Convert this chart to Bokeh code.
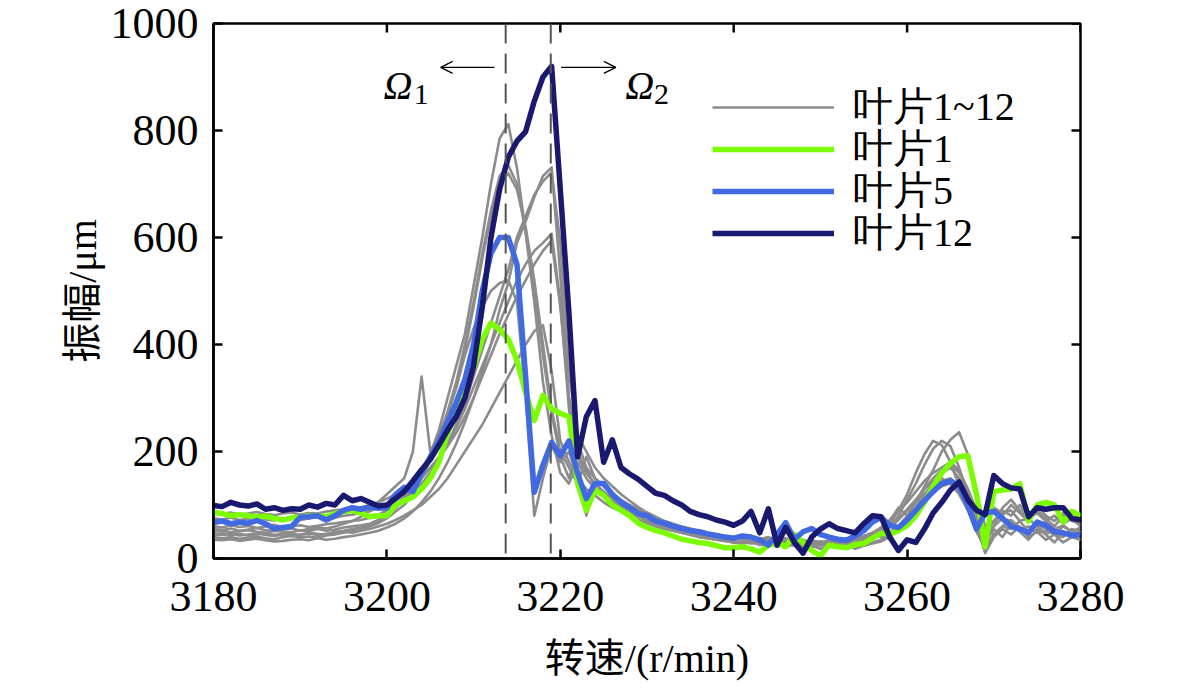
import math
from bokeh.plotting import figure
from bokeh.models import (Range1d, FixedTicker, Span, Arrow, OpenHead,
                          Label, Legend, LegendItem)
from bokeh.embed import file_html
from bokeh.resources import INLINE

# ---------------- data ----------------
speed = list(range(3180, 3281))  # r/min, 1 r/min step

x_ticks = [3180, 3200, 3220, 3240, 3260, 3280]
y_ticks = [0, 200, 400, 600, 800, 1000]
omega1 = 3213.7
omega2 = 3218.9

blade1 = [86, 84, 80, 82, 80, 78, 79, 75, 72, 76,
          77, 79, 80, 78, 84, 88, 90, 85, 78, 80,
          80, 100, 108, 115, 130, 150, 180, 234, 275, 320,
          357, 410, 440, 428, 410, 370, 310, 258, 305, 280,
          271, 265, 140, 90, 128, 118, 100, 90, 80, 66,
          58, 52, 48, 42, 36, 33, 30, 28, 24, 20,
          20, 22, 18, 12, 25, 30, 22, 45, 30, 15,
          5, 25, 22, 20, 26, 28, 38, 47, 46, 52,
          62, 80, 105, 135, 160, 178, 190, 192, 120, 22,
          125, 128, 130, 140, 70, 100, 105, 100, 68, 88,
          80]

blade5 = [67, 70, 65, 68, 66, 71, 65, 56, 58, 60,
          77, 78, 80, 72, 80, 90, 95, 92, 96, 94,
          95, 120, 133, 125, 160, 190, 218, 255, 292, 335,
          400, 500, 570, 600, 600, 550, 340, 124, 175, 217,
          192, 220, 159, 112, 140, 140, 120, 105, 95, 84,
          80, 70, 66, 60, 56, 52, 50, 46, 43, 40,
          38, 42, 40, 35, 25, 45, 67, 36, 50, 56,
          45, 40, 36, 34, 42, 52, 68, 77, 62, 58,
          72, 90, 108, 125, 140, 145, 135, 100, 55, 85,
          88, 75, 60, 55, 48, 68, 62, 50, 48, 43,
          45]

blade12 = [99, 97, 105, 100, 98, 102, 92, 95, 90, 93,
           92, 100, 96, 103, 100, 118, 108, 112, 105, 98,
           100, 112, 125, 145, 166, 185, 212, 240, 265, 300,
           360, 470, 600, 690, 750, 780, 798, 855, 900, 920,
           690, 458, 190, 265, 295, 180, 222, 170, 158, 148,
           135, 122, 118, 108, 100, 88, 82, 78, 72, 68,
           62, 70, 88, 48, 93, 25, 58, 30, 10, 40,
           55, 65, 56, 52, 48, 65, 80, 78, 40, 15,
           35, 30, 55, 85, 105, 128, 143, 110, 90, 82,
           155, 140, 132, 130, 78, 95, 92, 95, 95, 75,
           72]

gray_a = [45, 44, 46, 43, 45, 47, 44, 42, 45, 46,
          44, 48, 46, 45, 50, 52, 55, 58, 62, 70,
          80, 95, 110, 130, 160, 195, 240, 300, 360, 420,
          510, 600, 700, 785, 812, 730, 610, 480, 330, 230,
          160, 140, 180, 150, 130, 120, 105, 95, 85, 78,
          70, 62, 58, 52, 48, 45, 40, 38, 35, 33,
          30, 32, 28, 30, 26, 34, 28, 25, 30, 22,
          26, 24, 30, 28, 35, 30, 38, 45, 60, 80,
          110, 140, 175, 205, 220, 210, 170, 120, 70, 40,
          60, 75, 70, 55, 60, 48, 52, 45, 40, 55,
          50]

gray_b = [40, 38, 40, 37, 39, 41, 38, 36, 40, 42,
          40, 41, 39, 43, 45, 48, 52, 55, 60, 66,
          75, 88, 100, 120, 150, 185, 225, 275, 330, 400,
          480, 570, 650, 715, 735, 700, 610, 500, 380, 270,
          190, 150, 200, 160, 140, 125, 112, 100, 90, 80,
          72, 66, 60, 55, 50, 46, 42, 40, 38, 35,
          33, 30, 34, 28, 32, 26, 30, 35, 28, 30,
          24, 28, 32, 26, 30, 35, 40, 50, 65, 90,
          120, 160, 195, 220, 212, 180, 135, 90, 50, 20,
          45, 60, 72, 58, 50, 62, 45, 55, 48, 40,
          52]

gray_c = [50, 52, 49, 51, 53, 50, 48, 52, 50, 49,
          53, 51, 55, 52, 54, 58, 60, 62, 65, 72,
          85, 100, 115, 135, 160, 190, 230, 270, 320, 390,
          470, 560, 640, 700, 720, 690, 620, 520, 400, 280,
          200, 170, 140, 190, 150, 135, 120, 105, 95, 85,
          78, 70, 64, 58, 52, 50, 46, 42, 40, 38,
          36, 40, 35, 38, 30, 42, 36, 30, 25, 32,
          28, 32, 28, 35, 38, 42, 46, 40, 50, 60,
          75, 95, 120, 140, 160, 170, 150, 110, 60, 80,
          95, 85, 90, 70, 75, 60, 68, 55, 62, 50,
          58]

gray_d = [35, 34, 36, 33, 35, 37, 34, 32, 33, 35,
          36, 34, 38, 35, 37, 40, 42, 45, 48, 52,
          58, 65, 75, 88, 105, 125, 150, 180, 215, 255,
          300, 350, 400, 465, 515, 590, 630, 675, 715, 731,
          530, 300, 190, 160, 140, 125, 110, 98, 88, 80,
          72, 65, 60, 55, 50, 46, 42, 38, 35, 33,
          30, 28, 32, 25, 30, 22, 28, 24, 20, 26,
          18, 22, 25, 20, 28, 24, 30, 35, 45, 60,
          80, 105, 130, 150, 165, 175, 160, 130, 85, 30,
          55, 40, 65, 50, 35, 55, 45, 30, 50, 40,
          35]

gray_e = [60, 58, 62, 59, 61, 57, 60, 63, 58, 60,
          62, 59, 61, 64, 66, 68, 70, 72, 76, 82,
          90, 100, 112, 125, 140, 160, 185, 215, 250, 290,
          340, 390, 440, 490, 540, 600, 640, 680, 705, 722,
          590, 350, 230, 200, 170, 150, 135, 120, 108, 96,
          86, 78, 70, 64, 58, 54, 50, 46, 42, 40,
          38, 36, 40, 34, 38, 30, 36, 32, 28, 34,
          30, 34, 30, 38, 35, 42, 48, 55, 70, 95,
          80, 105, 135, 165, 200, 222, 236, 195, 120, 60,
          70, 90, 80, 100, 75, 85, 70, 80, 65, 75,
          60]

gray_f = [75, 73, 76, 72, 74, 77, 73, 71, 74, 76,
          72, 75, 78, 74, 76, 80, 82, 85, 88, 95,
          102, 112, 122, 135, 150, 168, 190, 215, 245, 280,
          320, 360, 400, 440, 480, 520, 550, 575, 590, 607,
          480, 280, 160, 80, 140, 120, 108, 98, 90, 82,
          75, 70, 64, 60, 55, 50, 47, 44, 42, 40,
          38, 36, 34, 38, 32, 35, 30, 33, 28, 30,
          26, 30, 35, 28, 32, 38, 45, 55, 62, 75,
          92, 110, 130, 145, 150, 140, 120, 90, 65, 45,
          70, 80, 100, 85, 70, 90, 75, 60, 80, 70,
          65]

gray_g = [85, 83, 86, 82, 84, 87, 83, 81, 84, 86,
          82, 85, 84, 88, 90, 92, 94, 96, 100, 105,
          112, 120, 130, 142, 155, 170, 188, 210, 235, 265,
          300, 340, 380, 420, 455, 490, 520, 550, 575, 594,
          470, 300, 220, 170, 150, 135, 120, 110, 100, 92,
          84, 76, 70, 65, 60, 56, 52, 48, 45, 42,
          40, 38, 42, 36, 40, 34, 38, 30, 35, 28,
          32, 28, 32, 30, 36, 40, 48, 58, 72, 88,
          105, 125, 145, 160, 170, 180, 165, 130, 90, 50,
          60, 95, 110, 90, 75, 100, 80, 70, 85, 75,
          80]

gray_h = [55, 53, 56, 52, 54, 57, 53, 51, 54, 56,
          52, 55, 58, 56, 60, 65, 70, 78, 90, 105,
          120, 135, 150, 200, 340, 200, 230, 270, 320, 380,
          430, 470, 500, 515, 520, 480, 300, 80, 150, 210,
          180, 200, 150, 170, 130, 120, 110, 95, 88, 80,
          72, 68, 62, 58, 55, 50, 46, 44, 40, 38,
          36, 40, 35, 32, 38, 30, 34, 28, 32, 26,
          30, 28, 24, 30, 26, 32, 38, 45, 58, 72,
          90, 105, 120, 135, 145, 150, 135, 110, 80, 55,
          45, 60, 55, 70, 50, 65, 55, 45, 60, 50,
          45]

gray_i = [45, 47, 44, 46, 43, 45, 48, 44, 46, 42,
          45, 47, 44, 46, 48, 50, 48, 52, 55, 60,
          65, 72, 80, 90, 100, 115, 130, 150, 175, 200,
          225, 250, 280, 310, 340, 370, 400, 425, 436, 350,
          220, 180, 150, 130, 118, 105, 95, 88, 80, 72,
          66, 60, 55, 52, 48, 44, 40, 38, 36, 33,
          30, 28, 30, 26, 24, 28, 22, 26, 20, 24,
          18, 22, 20, 25, 18, 24, 28, 32, 40, 55,
          70, 90, 110, 125, 135, 140, 125, 95, 65, 10,
          40, 55, 45, 60, 40, 50, 35, 45, 30, 40,
          35]

gray_series = [gray_a, gray_b, gray_c, gray_d, gray_e, gray_f, gray_g, gray_h, gray_i]

labels = ["叶片1~12", "叶片1", "叶片5", "叶片12"]
x_label = "转速/(r/min)"
y_label = "振幅/μm"

# ---------------- style ----------------
FONT = "'Liberation Serif', 'Noto Sans CJK SC', serif"
LEG_FONT = "Liberation Serif"
GRAY = "#8c8c8c"
GREEN = "#7cfc00"
BLUE = "#4169e1"
NAVY = "#191970"

X0, X1 = 3180, 3280
Y0, Y1 = 0, 1000

p = figure(width=1173, height=684, output_backend="svg", toolbar_location=None,
           x_range=Range1d(X0, X1), y_range=Range1d(Y0, Y1),
           min_border_left=213, min_border_right=93, min_border_top=23,
           min_border_bottom=126)
p.grid.visible = False
p.outline_line_color = "black"
p.outline_line_width = 2.5
p.outline_line_alpha = 1.0
p.background_fill_color = "white"
p.border_fill_color = "white"

p.xaxis.ticker = FixedTicker(ticks=x_ticks)
p.yaxis.ticker = FixedTicker(ticks=y_ticks)
for ax in p.xaxis + p.yaxis:
    ax.axis_line_width = 2.5
    ax.axis_line_color = "black"
    ax.major_tick_in = 9
    ax.major_tick_out = 0
    ax.major_tick_line_width = 2.5
    ax.major_tick_line_color = "black"
    ax.minor_tick_line_color = None
    ax.major_label_text_font = FONT
    ax.major_label_text_color = "black"
    ax.major_label_text_font_size = "44px"
    ax.axis_label_text_font = FONT
    ax.axis_label_text_font_size = "40px"
    ax.axis_label_text_font_style = "normal"
    ax.axis_label_text_color = "black"
p.xaxis.major_label_standoff = 23
p.yaxis.major_label_standoff = 15
p.xaxis.axis_label = x_label
p.yaxis.axis_label = y_label
p.xaxis.axis_label_standoff = 22
p.yaxis.axis_label_standoff = 3

# mirrored inner ticks on the top and right frame edges (half of each dash is clipped)
p.scatter(x=x_ticks, y=[Y1] * len(x_ticks), marker="dash", size=18, angle=math.pi / 2,
          line_color="black", line_width=2.5)
p.scatter(x=[X1] * len(y_ticks), y=y_ticks, marker="dash", size=18, angle=0,
          line_color="black", line_width=2.5)

# ---------------- lines ----------------
gray_renderers = []
for s in gray_series:
    r = p.line(speed, s, line_color=GRAY, line_width=2.6, line_join="round")
    gray_renderers.append(r)

r1 = p.line(speed, blade1, line_color=GREEN, line_width=5.5, line_join="round")
r5 = p.line(speed, blade5, line_color=BLUE, line_width=5.5, line_join="round")
r12 = p.line(speed, blade12, line_color=NAVY, line_width=5.5, line_join="round")

for loc in (omega1, omega2):
    p.add_layout(Span(location=loc, dimension="height", line_color="#555555",
                      line_width=2, line_dash="20 10"))

# ---------------- annotations ----------------
p.add_layout(Label(x=3199.6, y=884, text="Ω", text_font=FONT, text_font_size="40px",
                   text_font_style="italic", text_align="left", text_baseline="alphabetic",
                   text_color="black"))
p.add_layout(Label(x=3203.1, y=867, text="1", text_font=FONT, text_font_size="30px",
                   text_align="left", text_baseline="alphabetic", text_color="black"))
p.add_layout(Label(x=3227.5, y=884, text="Ω", text_font=FONT, text_font_size="40px",
                   text_font_style="italic", text_align="left", text_baseline="alphabetic",
                   text_color="black"))
p.add_layout(Label(x=3230.8, y=867, text="2", text_font=FONT, text_font_size="30px",
                   text_align="left", text_baseline="alphabetic", text_color="black"))
p.add_layout(Arrow(x_start=3212.4, y_start=918, x_end=3206.2, y_end=918,
                   line_width=1.3, line_color="black",
                   end=OpenHead(size=12, line_width=1.3, line_color="black")))
p.add_layout(Arrow(x_start=3220.1, y_start=918, x_end=3226.4, y_end=918,
                   line_width=1.3, line_color="black",
                   end=OpenHead(size=12, line_width=1.3, line_color="black")))

# legend: one box per row so that the row pitch matches the reference
legend_renderers = [gray_renderers[0], r1, r5, r12]
legend_bottoms = [424, 382, 340, 298]   # px above the frame bottom
for lab, rend, yb in zip(labels, legend_renderers, legend_bottoms):
    lg = Legend(items=[LegendItem(label=lab, renderers=[rend])],
                location=(499, yb), glyph_width=122, glyph_height=40,
                label_standoff=19, label_text_font=LEG_FONT, label_text_font_size="40px",
                label_text_color="black", label_height=40, padding=0, spacing=0,
                margin=0, border_line_color=None, background_fill_alpha=0)
    p.add_layout(lg)

open("out.html", "w").write(file_html(p, INLINE))
